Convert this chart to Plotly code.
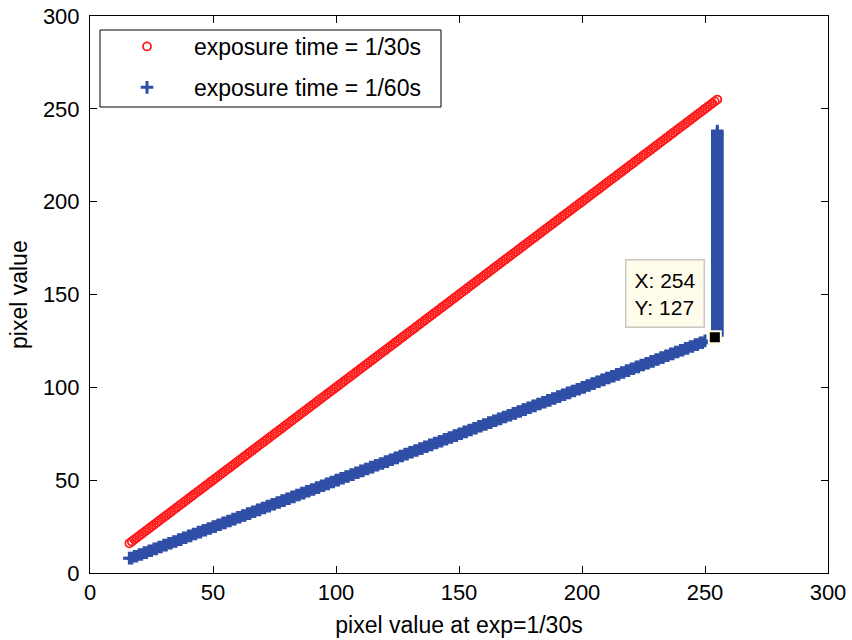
import plotly.graph_objects as go

# ---- data ----
red_x = [16, 17, 18, 19, 20, 21, 22, 23, 24, 25, 26, 27, 28, 29, 30, 31, 32, 33, 34, 35,
         36, 37, 38, 39, 40, 41, 42, 43, 44, 45, 46, 47, 48, 49, 50, 51, 52, 53, 54, 55,
         56, 57, 58, 59, 60, 61, 62, 63, 64, 65, 66, 67, 68, 69, 70, 71, 72, 73, 74, 75,
         76, 77, 78, 79, 80, 81, 82, 83, 84, 85, 86, 87, 88, 89, 90, 91, 92, 93, 94, 95,
         96, 97, 98, 99, 100, 101, 102, 103, 104, 105, 106, 107, 108, 109, 110, 111, 112, 113, 114, 115,
         116, 117, 118, 119, 120, 121, 122, 123, 124, 125, 126, 127, 128, 129, 130, 131, 132, 133, 134, 135,
         136, 137, 138, 139, 140, 141, 142, 143, 144, 145, 146, 147, 148, 149, 150, 151, 152, 153, 154, 155,
         156, 157, 158, 159, 160, 161, 162, 163, 164, 165, 166, 167, 168, 169, 170, 171, 172, 173, 174, 175,
         176, 177, 178, 179, 180, 181, 182, 183, 184, 185, 186, 187, 188, 189, 190, 191, 192, 193, 194, 195,
         196, 197, 198, 199, 200, 201, 202, 203, 204, 205, 206, 207, 208, 209, 210, 211, 212, 213, 214, 215,
         216, 217, 218, 219, 220, 221, 222, 223, 224, 225, 226, 227, 228, 229, 230, 231, 232, 233, 234, 235,
         236, 237, 238, 239, 240, 241, 242, 243, 244, 245, 246, 247, 248, 249, 250, 251, 252, 253, 254, 255]
red_y = [16, 17, 18, 19, 20, 21, 22, 23, 24, 25, 26, 27, 28, 29, 30, 31, 32, 33, 34, 35,
         36, 37, 38, 39, 40, 41, 42, 43, 44, 45, 46, 47, 48, 49, 50, 51, 52, 53, 54, 55,
         56, 57, 58, 59, 60, 61, 62, 63, 64, 65, 66, 67, 68, 69, 70, 71, 72, 73, 74, 75,
         76, 77, 78, 79, 80, 81, 82, 83, 84, 85, 86, 87, 88, 89, 90, 91, 92, 93, 94, 95,
         96, 97, 98, 99, 100, 101, 102, 103, 104, 105, 106, 107, 108, 109, 110, 111, 112, 113, 114, 115,
         116, 117, 118, 119, 120, 121, 122, 123, 124, 125, 126, 127, 128, 129, 130, 131, 132, 133, 134, 135,
         136, 137, 138, 139, 140, 141, 142, 143, 144, 145, 146, 147, 148, 149, 150, 151, 152, 153, 154, 155,
         156, 157, 158, 159, 160, 161, 162, 163, 164, 165, 166, 167, 168, 169, 170, 171, 172, 173, 174, 175,
         176, 177, 178, 179, 180, 181, 182, 183, 184, 185, 186, 187, 188, 189, 190, 191, 192, 193, 194, 195,
         196, 197, 198, 199, 200, 201, 202, 203, 204, 205, 206, 207, 208, 209, 210, 211, 212, 213, 214, 215,
         216, 217, 218, 219, 220, 221, 222, 223, 224, 225, 226, 227, 228, 229, 230, 231, 232, 233, 234, 235,
         236, 237, 238, 239, 240, 241, 242, 243, 244, 245, 246, 247, 248, 249, 250, 251, 252, 253, 254, 255]

blue_x = [16, 17, 18, 19, 20, 21, 22, 23, 24, 25, 26, 27, 28, 29, 30, 31, 32, 33, 34, 35,
          36, 37, 38, 39, 40, 41, 42, 43, 44, 45, 46, 47, 48, 49, 50, 51, 52, 53, 54, 55,
          56, 57, 58, 59, 60, 61, 62, 63, 64, 65, 66, 67, 68, 69, 70, 71, 72, 73, 74, 75,
          76, 77, 78, 79, 80, 81, 82, 83, 84, 85, 86, 87, 88, 89, 90, 91, 92, 93, 94, 95,
          96, 97, 98, 99, 100, 101, 102, 103, 104, 105, 106, 107, 108, 109, 110, 111, 112, 113, 114, 115,
          116, 117, 118, 119, 120, 121, 122, 123, 124, 125, 126, 127, 128, 129, 130, 131, 132, 133, 134, 135,
          136, 137, 138, 139, 140, 141, 142, 143, 144, 145, 146, 147, 148, 149, 150, 151, 152, 153, 154, 155,
          156, 157, 158, 159, 160, 161, 162, 163, 164, 165, 166, 167, 168, 169, 170, 171, 172, 173, 174, 175,
          176, 177, 178, 179, 180, 181, 182, 183, 184, 185, 186, 187, 188, 189, 190, 191, 192, 193, 194, 195,
          196, 197, 198, 199, 200, 201, 202, 203, 204, 205, 206, 207, 208, 209, 210, 211, 212, 213, 214, 215,
          216, 217, 218, 219, 220, 221, 222, 223, 224, 225, 226, 227, 228, 229, 230, 231, 232, 233, 234, 235,
          236, 237, 238, 239, 240, 241, 242, 243, 244, 245, 246, 247, 248, 249, 250, 254]
blue_y = [8, 8, 9, 9, 10, 10, 11, 11, 12, 12, 13, 13, 14, 14, 15, 15, 16, 16, 17, 17,
          18, 18, 19, 19, 20, 20, 21, 21, 22, 22, 23, 23, 24, 24, 25, 25, 26, 26, 27, 27,
          28, 28, 29, 29, 30, 30, 31, 31, 32, 32, 33, 33, 34, 34, 35, 35, 36, 36, 37, 37,
          38, 38, 39, 39, 40, 40, 41, 41, 42, 42, 43, 43, 44, 44, 45, 45, 46, 46, 47, 47,
          48, 48, 49, 49, 50, 50, 51, 51, 52, 52, 53, 53, 54, 54, 55, 55, 56, 56, 57, 57,
          58, 58, 59, 59, 60, 60, 61, 61, 62, 62, 63, 63, 64, 64, 65, 65, 66, 66, 67, 67,
          68, 68, 69, 69, 70, 70, 71, 71, 72, 72, 73, 73, 74, 74, 75, 75, 76, 76, 77, 77,
          78, 78, 79, 79, 80, 80, 81, 81, 82, 82, 83, 83, 84, 84, 85, 85, 86, 86, 87, 87,
          88, 88, 89, 89, 90, 90, 91, 91, 92, 92, 93, 93, 94, 94, 95, 95, 96, 96, 97, 97,
          98, 98, 99, 99, 100, 100, 101, 101, 102, 102, 103, 103, 104, 104, 105, 105, 106, 106, 107, 107,
          108, 108, 109, 109, 110, 110, 111, 111, 112, 112, 113, 113, 114, 114, 115, 115, 116, 116, 117, 117,
          118, 118, 119, 119, 120, 120, 121, 121, 122, 122, 123, 123, 124, 124, 125, 127]

# saturated column of the 1/60s series at x = 255
col_x = [255] * 111
col_y = [128, 129, 130, 131, 132, 133, 134, 135, 136, 137, 138, 139, 140, 141, 142, 143, 144, 145, 146, 147,
         148, 149, 150, 151, 152, 153, 154, 155, 156, 157, 158, 159, 160, 161, 162, 163, 164, 165, 166, 167,
         168, 169, 170, 171, 172, 173, 174, 175, 176, 177, 178, 179, 180, 181, 182, 183, 184, 185, 186, 187,
         188, 189, 190, 191, 192, 193, 194, 195, 196, 197, 198, 199, 200, 201, 202, 203, 204, 205, 206, 207,
         208, 209, 210, 211, 212, 213, 214, 215, 216, 217, 218, 219, 220, 221, 222, 223, 224, 225, 226, 227,
         228, 229, 230, 231, 232, 233, 234, 235, 236, 237, 238]

tip_x = [254]
tip_y = [127]

tick_vals = [0, 50, 100, 150, 200, 250, 300]

RED = "#ff1a1a"
BLUE = "#2f4ea6"
FONT = "Liberation Sans, Arial, sans-serif"

# body margin is removed (post_script), so the figure fills the window;
# axes box sits at 90..828 (x) and 16..573 (y)
W, H = 852, 640
ML, MR, MT, MB = 90, 24, 16, 67
PW, PH = W - ML - MR, H - MT - MB


def px_x(p):  # window pixel -> paper x
    return (p - ML) / PW


def px_y(p):  # window pixel -> paper y
    return 1 - (p - MT) / PH


fig = go.Figure()
fig.add_trace(go.Scatter(
    x=red_x, y=red_y, mode="markers", name="exposure time = 1/30s",
    legendgroup="a",
    marker=dict(symbol="circle-open", size=8, color=RED, line=dict(width=1.8, color=RED)),
))
fig.add_trace(go.Scatter(
    x=blue_x + col_x, y=blue_y + col_y, mode="markers", name="exposure time = 1/60s",
    legendgroup="b",
    marker=dict(symbol="cross-thin", size=9, color=BLUE, line=dict(width=3, color=BLUE)),
))
fig.add_trace(go.Scatter(
    x=tip_x, y=tip_y, mode="markers", showlegend=False,
    marker=dict(symbol="square", size=12, color="black", line=dict(width=2, color="#fffbe0")),
))

fig.add_annotation(
    x=tip_x[0], y=tip_y[0], xref="x", yref="y",
    text="X: 254<br>Y: 127", showarrow=False, align="left",
    xanchor="right", yanchor="bottom", xshift=-10, yshift=9,
    bgcolor="#fffcec", bordercolor="#c8c8c0", borderwidth=1.5, borderpad=8,
    font=dict(family=FONT, size=21, color="black"),
)

# y-axis title
fig.add_annotation(
    x=px_x(19), y=px_y(295), xref="paper", yref="paper", text="pixel value",
    textangle=-90, showarrow=False, xanchor="center", yanchor="middle",
    font=dict(family=FONT, size=23, color="black"),
)

# legend frame
fig.add_shape(type="rect", xref="paper", yref="paper",
              x0=px_x(100), x1=px_x(441), y0=px_y(107), y1=px_y(30),
              line=dict(color="black", width=1), fillcolor="white", layer="above")

axis_common = dict(
    range=[0, 300], tickvals=tick_vals, ticks="inside", ticklen=7, tickwidth=1,
    tickcolor="black", showline=True, linecolor="black", linewidth=1, mirror="ticks",
    showgrid=False, zeroline=False, automargin=False, ticklabeloverflow="allow",
    tickfont=dict(family=FONT, size=22, color="black"),
)

fig.update_layout(
    width=W, height=H,
    margin=dict(l=ML, r=MR, t=MT, b=MB),
    paper_bgcolor="white", plot_bgcolor="white",
    font=dict(family=FONT, size=22, color="black"),
    xaxis=dict(**axis_common, title=dict(text="pixel value at exp=1/30s", standoff=12,
                                         font=dict(family=FONT, size=23))),
    yaxis=dict(**axis_common, ticklabelstandoff=5),
    legend=dict(x=px_x(100), y=px_y(25), xanchor="left", yanchor="top",
                bgcolor="rgba(0,0,0,0)", borderwidth=0,
                font=dict(family=FONT, size=23), tracegroupgap=8, itemwidth=84),
    showlegend=True,
)

fig.write_html("out.html", config={"displayModeBar": False},
               post_script="document.body.style.margin='0';")
